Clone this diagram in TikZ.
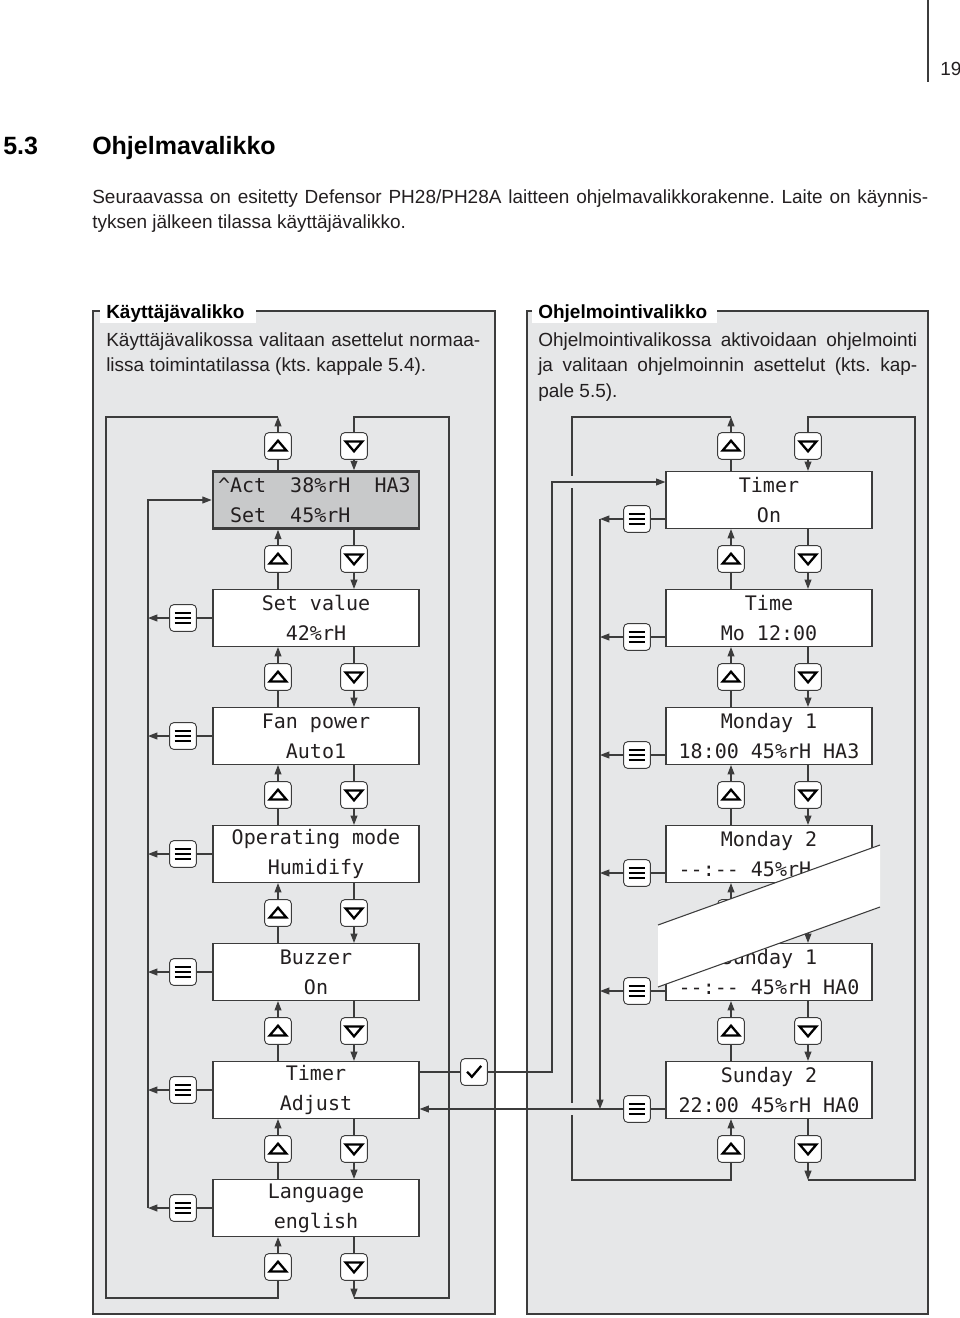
\documentclass[tikz,border=0pt]{standalone}
\usepackage{fontspec}
\setmainfont{Liberation Sans}
\newfontfamily\dmono[WordSpace={1,0,0}]{DejaVu Sans Mono}
\usetikzlibrary{arrows.meta}
\definecolor{panelc}{HTML}{E6E7E8}
\definecolor{actc}{HTML}{C8C9CA}
\definecolor{linec}{HTML}{3C3C3C}
\definecolor{txtc}{HTML}{231F20}
\newcommand\dd{\mbox{-}\mbox{-}}
\newcommand\bodyfont{\fontsize{14.25pt}{19.5pt}\selectfont}
\frenchspacing
\tikzset{
  conn/.style={draw=linec, line width=0.8pt},
  arr/.style={conn, -{Triangle[length=7pt,width=5.2pt]}},
  panel/.style={draw=linec, line width=0.8pt, fill=panelc},
  dbox/.style={draw=linec, line width=0.9pt, fill=white, minimum width=154.5pt, minimum height=42.75pt,
    inner sep=0pt, align=center, text=txtc, font=\dmono\fontsize{15pt}{22.5pt}\selectfont},
  btn/.style={draw=linec, line width=0.7pt, fill=white, rounded corners=3pt, minimum width=20pt, minimum height=20pt, inner sep=0pt},
  upbtn/.style={btn, path picture={\draw[black, line width=1.7pt, sharp corners]
    ([shift={(-6.3pt,-3.4pt)}]path picture bounding box.center) -- ([shift={(6.3pt,-3.4pt)}]path picture bounding box.center)
    -- ([shift={(0pt,4pt)}]path picture bounding box.center) -- cycle;}},
  dnbtn/.style={btn, path picture={\draw[black, line width=1.7pt, sharp corners]
    ([shift={(-6.3pt,3.4pt)}]path picture bounding box.center) -- ([shift={(6.3pt,3.4pt)}]path picture bounding box.center)
    -- ([shift={(0pt,-4pt)}]path picture bounding box.center) -- cycle;}},
  mnbtn/.style={btn, path picture={\draw[black, line width=1.6pt, sharp corners]
    ([shift={(-6.2pt,3.8pt)}]path picture bounding box.center) -- ([shift={(6.2pt,3.8pt)}]path picture bounding box.center)
    ([shift={(-6.2pt,0pt)}]path picture bounding box.center) -- ([shift={(6.2pt,0pt)}]path picture bounding box.center)
    ([shift={(-6.2pt,-3.8pt)}]path picture bounding box.center) -- ([shift={(6.2pt,-3.8pt)}]path picture bounding box.center);}},
  ckbtn/.style={btn, path picture={\draw[black, line width=1.7pt, sharp corners]
    ([shift={(-5.2pt,0.2pt)}]path picture bounding box.center) -- ([shift={(-1.6pt,-3.6pt)}]path picture bounding box.center)
    -- ([shift={(5.4pt,4.6pt)}]path picture bounding box.center);}},
  txt/.style={anchor=base west, inner sep=0pt, text=txtc, font=\bodyfont},
  ttl/.style={anchor=base west, inner sep=0pt, text=black, font=\bfseries\bodyfont},
}
\begin{document}
\begin{tikzpicture}[x=0.75pt, y=-0.75pt]
\useasboundingbox (0,0) rectangle (960,1318);

% page header
\draw[linec, line width=0.8pt] (928,0) -- (928,82);
\node[txt] (pg) at (940,75) {19};
\node[anchor=base west, inner sep=0pt, font=\bfseries\fontsize{18.75pt}{22pt}\selectfont] (hnum) at (3,154) {5.3};
\node[anchor=base west, inner sep=0pt, font=\bfseries\fontsize{18.75pt}{22pt}\selectfont] (hname) at (92,154) {Ohjelmavalikko};
\node[txt] (p1) at (92,203) {\makebox[627pt][s]{Seuraavassa on esitetty Defensor PH28/PH28A laitteen ohjelmavalikkorakenne. Laite on käynnis-}};
\node[txt] (p2) at (92,228) {tyksen jälkeen tilassa käyttäjävalikko.};

% panels
\path[panel] (93,311) rectangle (495,1314);
\path[panel] (527,311) rectangle (928,1314);
\fill[white] (100,302) rectangle (256,323);
\fill[white] (532,302) rectangle (717,323);
\node[ttl] (t1) at (106,318) {Käyttäjävalikko};
\node[ttl] (t2) at (538,318) {Ohjelmointivalikko};
\node[txt] (d1a) at (106,346) {\makebox[280.5pt][s]{Käyttäjävalikossa valitaan asettelut normaa-}};
\node[txt] (d1b) at (106,371.5) {lissa toimintatilassa (kts. kappale 5.4).};
\node[txt] (d2a) at (538,346) {\makebox[284.25pt][s]{Ohjelmointivalikossa aktivoidaan ohjelmointi}};
\node[txt] (d2b) at (538,371.5) {\makebox[284.25pt][s]{ja valitaan ohjelmoinnin asettelut (kts. kap-}};
\node[txt] (d2c) at (538,397) {pale 5.5).};

% ---------------- left column ----------------
\node[dbox, fill=actc, line width=2pt, align=left, text width=147pt, inner xsep=3.75pt] (L1) at (316,500)
  {\textasciicircum Act\phantom{00}38\%rH\phantom{00}HA3\\\phantom{0}Set\phantom{00}45\%rH};
\node[dbox] (L2) at (316,618) {Set value\\42\%rH};
\node[dbox] (L3) at (316,736) {Fan power\\Auto1};
\node[dbox] (L4) at (316,854) {Operating mode\\Humidify};
\node[dbox] (L5) at (316,972) {Buzzer\\On};
\node[dbox] (L6) at (316,1090) {Timer\\Adjust};
\node[dbox] (L7) at (316,1208) {Language\\english};

\node[upbtn] (LUt) at (278,446) {};
\node[dnbtn] (LDt) at (354,446) {};
\foreach \i/\y in {1/559,2/677,3/795,4/913,5/1031,6/1149,7/1267}{
  \node[upbtn] (LU\i) at (278,\y) {};
  \node[dnbtn] (LD\i) at (354,\y) {};
}
\foreach \i/\y in {2/618,3/736,4/854,5/972,6/1090,7/1208}{
  \node[mnbtn] (LM\i) at (183,\y) {};
}
\coordinate (LTU) at (278,417);
\coordinate (LTL) at (106,417);
\coordinate (LBL) at (106,1298);
\coordinate (LBU) at (278,1298);
\coordinate (LTD) at (354,417);
\coordinate (LTR) at (449,417);
\coordinate (LBR) at (449,1298);
\coordinate (LBD) at (354,1298);
\coordinate (LIN) at (148,500);

\foreach \a/\b in {1/2,2/3,3/4,4/5,5/6,6/7}{
  \draw[conn] (LU\a |- L\b.north) -- (LU\a.south);
  \draw[arr] (LU\a.north) -- (LU\a |- L\a.south);
  \draw[conn] (LD\a |- L\a.south) -- (LD\a.north);
  \draw[arr] (LD\a.south) -- (LD\a |- L\b.north);
}
\draw[arr] (LUt.north) -- (LTU);
\draw[conn] (LUt.south) -- (LUt |- L1.north);
\draw[conn] (LTU) -- (LTL) -- (LBL) -- (LBU) -- (LU7.south);
\draw[arr] (LU7.north) -- (LU7 |- L7.south);
\draw[conn] (LBD) -- (LBR) -- (LTR) -- (LTD) -- (LDt.north);
\draw[arr] (LDt.south) -- (LDt |- L1.north);
\draw[conn] (LD7 |- L7.south) -- (LD7.north);
\draw[arr] (LD7.south) -- (LBD);

\foreach \i in {2,...,7}{
  \draw[conn] (L\i.west) -- (LM\i.east);
  \draw[arr] (LM\i.west) -- (LM\i.west -| LIN);
}
\draw[arr] (LM7.west -| LIN) -- (LIN) -- (L1.west);

% ---------------- right column ----------------
\node[dbox] (R1) at (769,500) {Timer\\On};
\node[dbox] (R2) at (769,618) {Time\\Mo 12:00};
\node[dbox] (R3) at (769,736) {Monday 1\\18:00 45\%rH HA3};
\node[dbox] (R4) at (769,854) {Monday 2\\\dd:\dd{} 45\%rH\phantom{ HA0}};
\node[dbox] (R5) at (769,972) {Sunday 1\\\dd:\dd{} 45\%rH HA0};
\node[dbox] (R6) at (769,1090) {Sunday 2\\22:00 45\%rH HA0};

\node[upbtn] (RUt) at (731,446) {};
\node[dnbtn] (RDt) at (808,446) {};
\foreach \i/\y in {1/559,2/677,3/795,4/913,5/1031,6/1149}{
  \node[upbtn] (RU\i) at (731,\y) {};
  \node[dnbtn] (RD\i) at (808,\y) {};
}
\foreach \i/\y in {1/519,2/637,3/755,4/873,5/991,6/1109}{
  \node[mnbtn] (RM\i) at (637,\y) {};
}
\coordinate (RTU) at (731,417);
\coordinate (RTL) at (572,417);
\coordinate (RBL) at (572,1180);
\coordinate (RBU) at (731,1180);
\coordinate (RTD) at (808,417);
\coordinate (RTR) at (915,417);
\coordinate (RBR) at (915,1180);
\coordinate (RBD) at (808,1180);
\coordinate (RIN) at (600,519);

\foreach \a/\b in {1/2,2/3,3/4,4/5,5/6}{
  \draw[conn] (RU\a |- R\b.north) -- (RU\a.south);
  \draw[arr] (RU\a.north) -- (RU\a |- R\a.south);
  \draw[conn] (RD\a |- R\a.south) -- (RD\a.north);
  \draw[arr] (RD\a.south) -- (RD\a |- R\b.north);
}
\draw[arr] (RUt.north) -- (RTU);
\draw[conn] (RUt.south) -- (RUt |- R1.north);
\draw[conn] (RTU) -- (RTL) -- (RBL) -- (RBU) -- (RU6.south);
\draw[arr] (RU6.north) -- (RU6 |- R6.south);
\draw[conn] (RBD) -- (RBR) -- (RTR) -- (RTD) -- (RDt.north);
\draw[arr] (RDt.south) -- (RDt |- R1.north);
\draw[conn] (RD6 |- R6.south) -- (RD6.north);
\draw[arr] (RD6.south) -- (RBD);

\foreach \i in {1,...,6}{
  \draw[conn] (RM\i.east -| R\i.west) -- (RM\i.east);
}
\foreach \i in {1,...,5}{
  \draw[arr] (RM\i.west) -- (RM\i.west -| RIN);
}
\draw[arr] (RIN) -- (RM6.west -| RIN);

% gaps where horizontal lines cross the loop line at x=572
\fill[panelc] (569,476) rectangle (575,488);
\fill[panelc] (569,1103) rectangle (575,1115);
\draw[arr] (RM6.west) -- (RM6.west -| L6.east);

% check (confirm) path from Timer/Adjust to Timer/On
\node[ckbtn] (CK) at (474,1072) {};
\coordinate (CA) at (552,1072);
\coordinate (CB) at (552,482);
\draw[conn] (CK.west -| L6.east) -- (CK.west);
\draw[arr] (CK.east) -- (CA) -- (CB) -- (CB -| R1.west);

% break band
\fill[white] (658,925) -- (880,845) -- (880,907) -- (658,987) -- cycle;
\draw[conn] (658,925) -- (880,845);
\draw[conn] (658,987) -- (880,907);
\end{tikzpicture}
\end{document}
